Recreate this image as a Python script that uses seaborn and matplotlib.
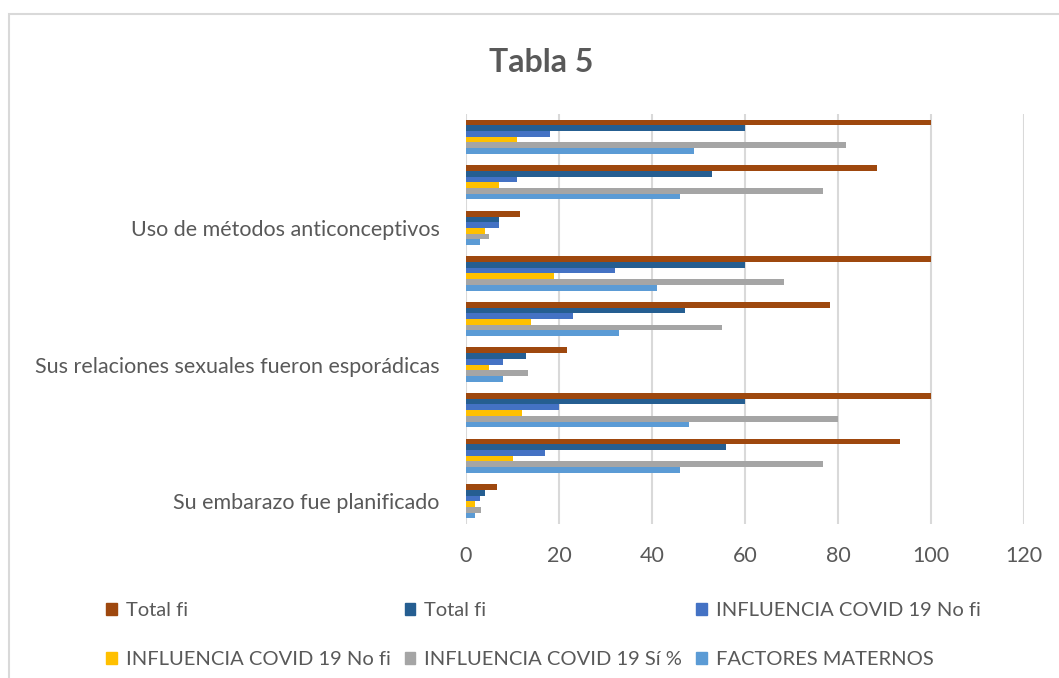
import numpy as np
import pandas as pd
import seaborn as sns
import matplotlib.pyplot as plt
from matplotlib.patches import Rectangle, Patch

# categorias de arriba hacia abajo (solo se rotulan tres)
etiquetas = ['', '', 'Uso de métodos anticonceptivos',
             '', '', 'Sus relaciones sexuales fueron esporádicas',
             '', '', 'Su embarazo fue planificado']

series = ['Total fi', 'Total fi', 'INFLUENCIA COVID 19 No fi',
          'INFLUENCIA COVID 19 No fi', 'INFLUENCIA COVID 19 Sí %', 'FACTORES MATERNOS']
colores = ['#9E480E', '#255E91', '#4472C4', '#FFC000', '#A5A5A5', '#5B9BD5']

total_pct = [100, 88.3, 11.7, 100, 78.3, 21.7, 100, 93.3, 6.7]
total_fi = [60, 53, 7, 60, 47, 13, 60, 56, 4]
no_fi_a = [18, 11, 7, 32, 23, 8, 20, 17, 3]
no_fi_b = [11, 7, 4, 19, 14, 5, 12, 10, 2]
si_pct = [81.7, 76.7, 5, 68.3, 55, 13.3, 80, 76.7, 3.3]
maternos = [49, 46, 3, 41, 33, 8, 48, 46, 2]

valores = [total_pct, total_fi, no_fi_a, no_fi_b, si_pct, maternos]

filas = []
for i, vals in enumerate(valores):
    for j, v in enumerate(vals):
        filas.append({'grupo': j, 'serie': 's%d' % i, 'valor': v})
df = pd.DataFrame(filas)

gris = '#595959'
plt.rcParams['font.family'] = ['Lato', 'DejaVu Sans']

fig = plt.figure(figsize=(10.59, 6.78), dpi=100)
ax = fig.add_axes([466 / 1059, 1 - 524 / 678, (1024 - 466) / 1059, (524 - 114) / 678])

sns.barplot(data=df, x='valor', y='grupo', hue='serie', orient='h',
            order=list(range(9)), hue_order=['s%d' % i for i in range(6)],
            palette=colores, width=0.75, saturation=1, linewidth=0,
            legend=False, ax=ax)

ax.set_xlim(0, 120)
ax.set_xticks(range(0, 121, 20))
ax.set_yticks(range(9))
ax.set_yticklabels(etiquetas)
ax.set_xlabel('')
ax.set_ylabel('')
ax.grid(axis='x', color='#D9D9D9', lw=1.5)
ax.grid(axis='y', visible=False)
ax.set_axisbelow(True)
for s in ax.spines.values():
    s.set_visible(False)
ax.tick_params(axis='both', length=0, labelsize=15.5, labelcolor=gris)
ax.tick_params(axis='x', pad=16)
ax.tick_params(axis='y', pad=19)

fig.text(541 / 1059, 1 - 62 / 678, 'Tabla 5', ha='center', va='center',
         fontsize=23, fontweight='bold', color=gris)

# leyenda en orden por filas
handles = [Patch(color=c) for c in colores]
orden = [0, 3, 1, 4, 2, 5]
fig.legend([handles[k] for k in orden], [series[k] for k in orden], ncol=3,
           loc='upper left', bbox_to_anchor=(98 / 1059, 1 - 594 / 678),
           borderaxespad=0, frameon=False, fontsize=14.5, labelcolor=gris,
           handlelength=0.52, handleheight=0.52, handletextpad=0.45,
           columnspacing=0.7, labelspacing=1.6)

fig.patches.append(Rectangle((8.5 / 1059, -0.1), 1.2, 0.1 + (678 - 14.5) / 678,
                             transform=fig.transFigure, fill=False,
                             ec='#D9D9D9', lw=1.5))

fig.savefig('out.png', dpi=100)
